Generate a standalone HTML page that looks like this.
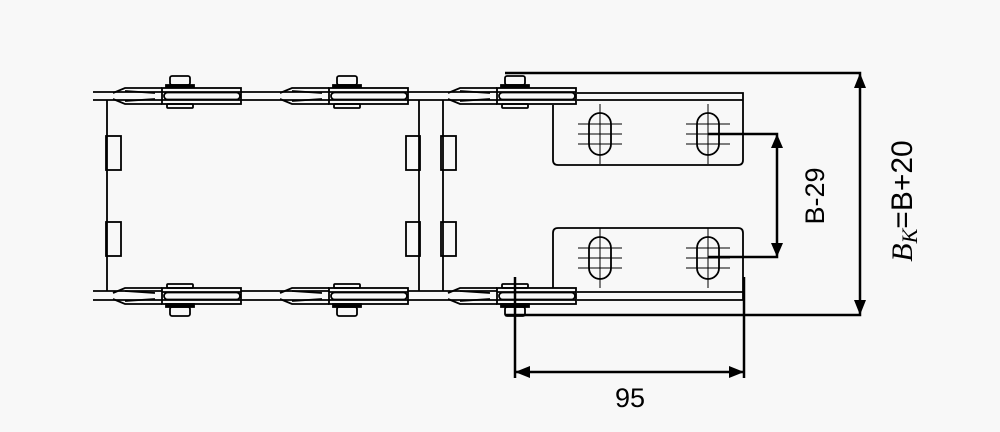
<!DOCTYPE html>
<html><head><style>html,body{margin:0;background:#f8f8f8}svg{display:block}</style></head><body>
<svg width="1000" height="432" viewBox="0 0 1000 432" xmlns="http://www.w3.org/2000/svg" font-family="Liberation Sans, sans-serif">
<defs>
<g id="linkT" fill="none" stroke="#000" stroke-width="1.8">
  <rect x="-10" y="-20" width="20" height="9" rx="2"/>
  <rect x="-14" y="-11" width="28" height="3" fill="#000"/>
  <path d="M-67 -3 L-55 -8 L-18 -8 M-67 3 L-55 8 L-18 8"/>
  <path d="M-55 -5 L-25 -3 M-55 5 L-25 3"/>
  <rect x="-18" y="-8" width="79" height="16" fill="#f8f8f8"/>
  <path d="M-18 -4 H61 M-18 4 H61"/>
  <rect x="-16" y="-3.5" width="76" height="7" rx="3.5" fill="#f8f8f8"/>
  <rect x="-13" y="8" width="26" height="4" rx="1"/>
</g>
<g id="linkB" fill="none" stroke="#000" stroke-width="1.8">
  <path d="M-67 -3 L-55 -8 L-18 -8 M-67 3 L-55 8 L-18 8"/>
  <path d="M-55 -5 L-25 -3 M-55 5 L-25 3"/>
  <rect x="-18" y="-8" width="79" height="16" fill="#f8f8f8"/>
  <path d="M-18 -4 H61 M-18 4 H61"/>
  <rect x="-16" y="-3.5" width="76" height="7" rx="3.5" fill="#f8f8f8"/>
  <rect x="-13" y="-12" width="26" height="4" rx="1"/>
  <rect x="-14" y="8" width="28" height="3" fill="#000"/>
  <rect x="-10" y="11" width="20" height="9" rx="2"/>
</g>
<g id="slot" fill="none" stroke="#000" stroke-width="1">
  <rect x="-11" y="-21" width="22" height="42" rx="11" stroke-width="1.8"/>
  <path d="M0 -30 V30 M-22 -10 H22 M-22 0 H22 M-22 10 H22"/>
</g>
</defs>
<g stroke="#000" stroke-width="1.8" fill="none">
  <path d="M93 92 H575 M93 100 H575 M93 291 H575 M93 300 H575"/>
  <path d="M107 100 V291 M419 100 V291 M443 100 V291"/>
  <rect x="106" y="136" width="15" height="34"/><rect x="106" y="222" width="15" height="34"/>
  <rect x="406" y="136" width="14" height="34"/><rect x="406" y="222" width="14" height="34"/>
  <rect x="441" y="136" width="15" height="34"/><rect x="441" y="222" width="15" height="34"/>
</g>
<use href="#linkT" x="180" y="96"/><use href="#linkT" x="347" y="96"/><use href="#linkT" x="515" y="96"/>
<use href="#linkB" x="180" y="296"/><use href="#linkB" x="347" y="296"/><use href="#linkB" x="515" y="296"/>
<g stroke="#000" stroke-width="1.8" fill="none">
  <path d="M577 93 H743 V160 Q743 165 738 165 H558 Q553 165 553 160 V105"/>
  <path d="M577 100 H743"/>
  <path d="M553 288 V233 Q553 228 558 228 H738 Q743 228 743 233 V300 M577 292 H743 M577 300 H743"/>
</g>
<use href="#slot" x="600" y="134"/><use href="#slot" x="708" y="134"/>
<use href="#slot" x="600" y="258"/><use href="#slot" x="708" y="258"/>
<g stroke="#000" stroke-width="2.5" fill="none">
  <path d="M505 73 H860 V315 H505"/>
  <path d="M708 134 H777 V257 H708"/>
  <path d="M515 277 V378 M744 277 V378 M515 372 H744"/>
</g>
<g fill="#000">
  <path d="M860 73 L854 88 L866 88Z M860 315 L854 300 L866 300Z"/>
  <path d="M777 134 L771 148 L783 148Z M777 257 L771 243 L783 243Z"/>
  <path d="M515 372 L530 366 L530 378Z M744 372 L729 366 L729 378Z"/>
</g>
<text x="630" y="407" font-size="27" text-anchor="middle">95</text>
<text transform="translate(824 196) rotate(-90)" font-size="27" text-anchor="middle">B-29</text>
<text transform="translate(912 201) rotate(-90)" font-size="30" text-anchor="middle"><tspan font-family="Liberation Serif, serif" font-style="italic">B</tspan><tspan font-family="Liberation Serif, serif" font-style="italic" font-size="22" dy="5">K</tspan><tspan dy="-5">=B+20</tspan></text>
</svg>
</body></html>
